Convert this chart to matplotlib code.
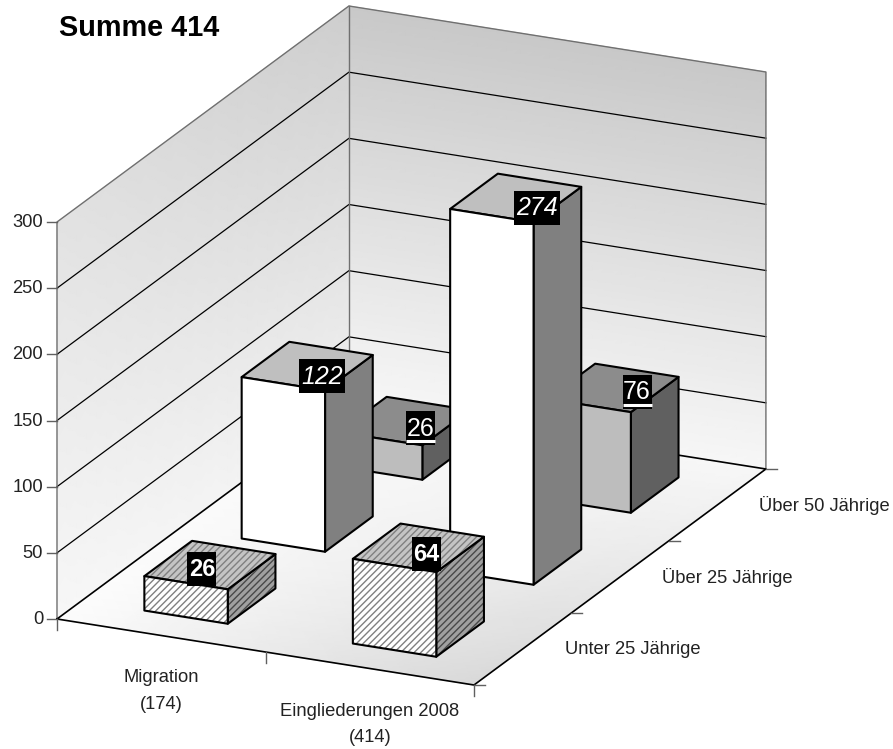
import matplotlib
matplotlib.use('Agg')
import matplotlib.pyplot as plt
import numpy as np
from matplotlib.patches import Polygon, Rectangle

plt.rcParams['font.family'] = ['Liberation Sans', 'DejaVu Sans']
plt.rcParams['hatch.linewidth'] = 1.0

# data
categories = ['Migration\n(174)', 'Eingliederungen 2008\n(414)']
series = ['Unter 25 Jährige', 'Über 25 Jährige', 'Über 50 Jährige']
unter25 = [26, 64]
ueber25 = [122, 274]
ueber50 = [26, 76]
values = [unter25, ueber25, ueber50]
z_ticks = [0, 50, 100, 150, 200, 250, 300]
title = 'Summe 414'

# oblique projection, screen pixels
origin = np.array([57.0, 619.0])
x_vec = np.array([208.5, 33.0])
y_vec = np.array([97.3, -72.0])
z_scale = 397.0 / 300
x_max, y_max, z_max = 2, 3, 300
bar_w, bar_d = 0.40, 0.49

# face colours: front, top, side
face_cols = [('#ffffff', '#c4c4c4', '#a0a0a0'),
             ('#ffffff', '#bfbfbf', '#808080'),
             ('#bdbdbd', '#8c8c8c', '#606060')]
hatch_cols = [('#808080', '#808080', '#484848'), None, None]
# label box offset from centre of bar top (pixels)
label_off = [[(-8, 4), (8, 6)],
             [(15, 10), (21, 10)],
             [(16, 7), (24, 4)]]


def proj(x, y, z=0):
    p = origin + x * x_vec + y * y_vec
    return p[0], p[1] - z * z_scale


def shaded(ax, corners, shades):
    # corners p00, p10, p01, p11 with grey levels, bilinear blend
    s = np.linspace(0, 1, 30)
    t = np.linspace(0, 1, 30)
    S, T = np.meshgrid(s, t)
    def blend(a, b, c, d):
        return a*(1-S)*(1-T) + b*S*(1-T) + c*(1-S)*T + d*S*T
    X = blend(*[c[0] for c in corners])
    Y = blend(*[c[1] for c in corners])
    C = blend(*shades)
    ax.pcolormesh(X, Y, C, shading='gouraud', cmap='gray', vmin=0, vmax=255, zorder=1)


def face(ax, pts, col, hatch_col, zo):
    if hatch_col:
        ax.add_patch(Polygon(pts, closed=True, facecolor=col, edgecolor=hatch_col,
                             hatch='/////', lw=0, zorder=zo))
    else:
        ax.add_patch(Polygon(pts, closed=True, facecolor=col, edgecolor='none', zorder=zo))
    ax.add_patch(Polygon(pts, closed=True, fill=False, edgecolor='black', lw=1.5,
                         joinstyle='round', zorder=zo))


fig = plt.figure(figsize=(8.93, 7.49), dpi=100)
ax = fig.add_axes([0, 0, 1, 1])
ax.set_xlim(0, 893)
ax.set_ylim(749, 0)
ax.axis('off')

# walls and floor
shaded(ax, [proj(0, 0), proj(0, y_max), proj(0, 0, z_max), proj(0, y_max, z_max)],
       [247, 240, 226, 205])
shaded(ax, [proj(0, y_max), proj(x_max, y_max), proj(0, y_max, z_max), proj(x_max, y_max, z_max)],
       [246, 246, 200, 200])
shaded(ax, [proj(0, 0), proj(x_max, 0), proj(0, y_max), proj(x_max, y_max)],
       [252, 216, 248, 246])

# gridlines
for z in z_ticks[1:-1]:
    xs, ys = zip(proj(0, 0, z), proj(0, y_max, z), proj(x_max, y_max, z))
    ax.plot(xs, ys, color='black', lw=0.9, zorder=2)

# wall outline
xs, ys = zip(proj(0, 0), proj(0, 0, z_max), proj(0, y_max, z_max), proj(x_max, y_max, z_max), proj(x_max, y_max))
ax.plot(xs, ys, color='#707070', lw=1.0, zorder=2)
xs, ys = zip(proj(0, y_max), proj(0, y_max, z_max))
ax.plot(xs, ys, color='#707070', lw=1.0, zorder=2)

# floor outline
xs, ys = zip(proj(0, 0), proj(x_max, 0), proj(x_max, y_max), proj(0, y_max), proj(0, 0))
ax.plot(xs, ys, color='black', lw=1.2, zorder=2)

# ticks
for z in z_ticks:
    x0, y0 = proj(0, 0, z)
    ax.plot([x0 - 10, x0], [y0, y0], color='#606060', lw=1.0, zorder=2)
    ax.text(x0 - 14, y0 + 0.5, str(z), ha='right', va='center', fontsize=13.2, color='#222222')
for i in range(x_max + 1):
    x0, y0 = proj(i, 0)
    ax.plot([x0, x0], [y0, y0 + 11], color='#606060', lw=1.0, zorder=2)
for j in range(y_max + 1):
    x0, y0 = proj(x_max, j)
    ax.plot([x0, x0 + 11], [y0, y0], color='#606060', lw=1.0, zorder=2)

for i, lab in enumerate(categories):
    x0, y0 = proj(i + 0.5, 0)
    ax.text(x0, y0 + 34, lab, ha='center', va='top', fontsize=13.2, color='#222222', linespacing=1.72)
for j, lab in enumerate(series):
    x0, y0 = proj(x_max, j + 0.5)
    ax.text(x0 + 42, y0 + 0.5, lab, ha='left', va='center', fontsize=13.2, color='#222222')

# bars, back to front
zo = 3
for j in [2, 1, 0]:
    for i in [0, 1]:
        v = values[j][i]
        x0 = i + 0.5 - bar_w / 2
        x1 = i + 0.5 + bar_w / 2
        y0 = j + 0.5 - bar_d / 2
        y1 = j + 0.5 + bar_d / 2
        front = [proj(x0, y0), proj(x1, y0), proj(x1, y0, v), proj(x0, y0, v)]
        top = [proj(x0, y0, v), proj(x1, y0, v), proj(x1, y1, v), proj(x0, y1, v)]
        side = [proj(x1, y0), proj(x1, y1), proj(x1, y1, v), proj(x1, y0, v)]
        front_c, top_c, side_c = face_cols[j]
        hc = hatch_cols[j] or (None, None, None)
        face(ax, side, side_c, hc[2], zo)
        face(ax, top, top_c, hc[1], zo)
        face(ax, front, front_c, hc[0], zo)
        zo += 1

# value labels
for j in range(3):
    for i in range(2):
        v = values[j][i]
        cx, cy = proj(i + 0.5, j + 0.5, v)
        cx += label_off[j][i][0]
        cy += label_off[j][i][1]
        txt = str(v)
        w = 17 * len(txt) - 5
        h = 34
        ax.add_patch(Rectangle((cx - w / 2, cy - h / 2), w, h, facecolor='black', edgecolor='none', zorder=20))
        weight = 'bold' if j == 0 else 'normal'
        style = 'italic' if j == 1 else 'normal'
        size = 17 if j == 0 else 18
        ax.text(cx, cy + 0.5, txt, ha='center', va='center', color='white', fontsize=size,
                fontweight=weight, fontstyle=style, zorder=21)
        if j == 2:
            ax.plot([cx - w / 2, cx + w / 2], [cy + 13, cy + 13], color='white', lw=2.2,
                    solid_capstyle='butt', zorder=21)

ax.text(59, 28, title, ha='left', va='center', fontsize=20.8, fontweight='bold', color='black')

fig.savefig('out.png', dpi=100)
